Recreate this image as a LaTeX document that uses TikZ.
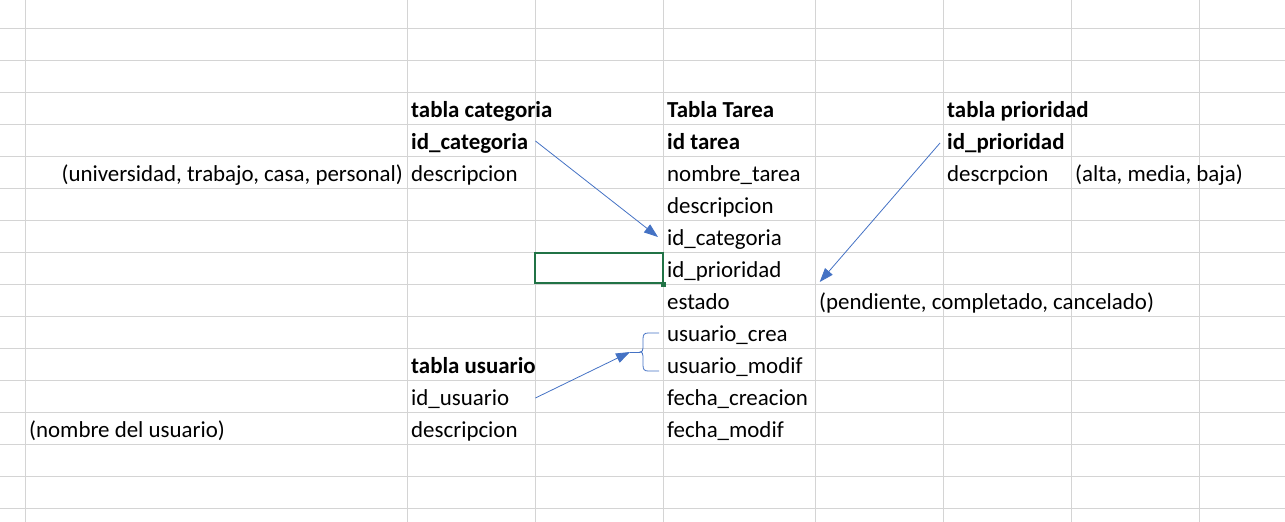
\documentclass[tikz,border=0pt]{standalone}
\usepackage{fontspec}
\setmainfont{Carlito}
\usetikzlibrary{arrows.meta}

\definecolor{gridgray}{HTML}{D4D4D4}
\definecolor{linkblue}{HTML}{4472C4}
\definecolor{selgreen}{HTML}{217346}

\begin{document}
\begin{tikzpicture}
  [x=1pt, y=-1pt]
  \tikzstyle{cell_line} = [draw=gridgray, line width=0.8pt];
  \tikzstyle{field} = [inner sep=0pt, anchor=base west, font=\fontsize{22.9}{25}\selectfont];
  \tikzstyle{head}  = [field, font=\fontsize{22.9}{25}\selectfont\bfseries];
  \tikzstyle{note}  = [field];
  \tikzstyle{link}  = [draw=linkblue, line width=0.8pt, -{Triangle[length=14pt, width=10pt]}];

  \useasboundingbox (0, 0) rectangle (1285, 522);

  % spreadsheet grid
  \foreach \gx in {25, 407, 535, 663, 815, 943, 1071, 1199}
    \draw[cell_line] (\gx, 0) -- (\gx, 522);
  \foreach \gy in {28, 60, 92, 124, 156, 188, 220, 252, 284, 316, 348, 380, 412, 444, 476, 508}
    \draw[cell_line] (0, \gy) -- (1285, \gy);

  % selected cell
  \draw[selgreen, line width=2pt] (535, 253) rectangle (663, 283);
  \fill[selgreen] (660.5, 281.5) rectangle (665.5, 286.5);

  % tabla categoria
  \node[head]  (cat_title) at (411, 117) {tabla categoria};
  \node[head]  (cat_id)    at (411, 149) {id\_categoria};
  \node[field] (cat_desc)  at (411, 181) {descripcion};
  \node[note, anchor=base east] (cat_note) at (403, 181) {(universidad, trabajo, casa, personal)};

  % Tabla Tarea
  \node[head]  (tar_title) at (667, 117) {Tabla Tarea};
  \node[head]  (tar_id)    at (667, 149) {id tarea};
  \node[field] (tar_name)  at (667, 181) {nombre\_tarea};
  \node[field] (tar_desc)  at (667, 213) {descripcion};
  \node[field] (tar_cat)   at (667, 245) {id\_categoria};
  \node[field] (tar_prio)  at (667, 277) {id\_prioridad};
  \node[field] (tar_state) at (667, 309) {estado};
  \node[field] (tar_ucrea) at (667, 341) {usuario\_crea};
  \node[field] (tar_umod)  at (667, 373) {usuario\_modif};
  \node[field] (tar_fcrea) at (667, 405) {fecha\_creacion};
  \node[field] (tar_fmod)  at (667, 437) {fecha\_modif};
  \node[note]  (state_note) at (819, 309) {(pendiente, completado, cancelado)};

  % tabla prioridad
  \node[head]  (prio_title) at (947, 117) {tabla prioridad};
  \node[head]  (prio_id)    at (947, 149) {id\_prioridad};
  \node[field] (prio_desc)  at (947, 181) {descrpcion};
  \node[note]  (prio_note)  at (1075, 181) {(alta, media, baja)};

  % tabla usuario
  \node[head]  (usr_title) at (411, 373) {tabla usuario};
  \node[field] (usr_id)    at (411, 405) {id\_usuario};
  \node[field] (usr_desc)  at (411, 437) {descripcion};
  \node[note]  (usr_note)  at (29, 437) {(nombre del usuario)};

  % brace over usuario_crea / usuario_modif
  \coordinate (usr_brace) at (640, 352);
  \draw[draw=linkblue, line width=0.8pt]
    (659, 333) -- (648, 333)
    .. controls (644, 333) and (643, 335) .. (643, 339) -- (643, 348)
    .. controls (643, 351) and (642, 352) .. (usr_brace)
    .. controls (642, 352) and (643, 353) .. (643, 356) -- (643, 365)
    .. controls (643, 369) and (644, 371) .. (648, 371) -- (659, 371);
  \draw[draw=linkblue, line width=0.8pt] (usr_brace) -- (630, 352);

  % links
  \draw[link] ([shift={(7pt, 8pt)}]cat_id.base east) -- ([shift={(-9pt, 8pt)}]tar_cat.base west);
  \draw[link] ([shift={(-7pt, 6pt)}]prio_id.base west) -- ([shift={(38pt, -5pt)}]tar_prio.base east);
  \draw[link] ([shift={(26pt, 7pt)}]usr_id.base east) -- ([xshift=-10pt]usr_brace);

\end{tikzpicture}
\end{document}
